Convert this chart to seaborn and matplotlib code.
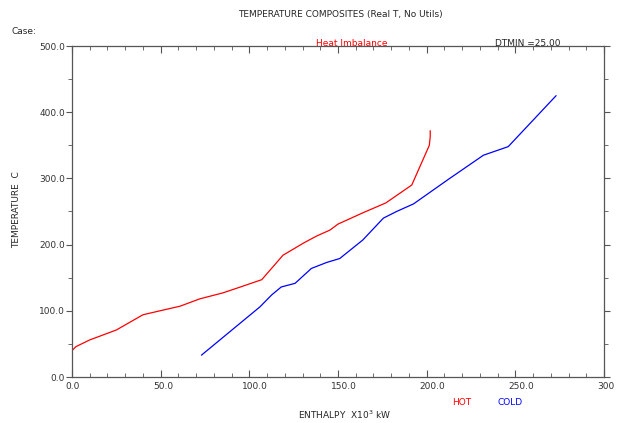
import numpy as np
import pandas as pd
import seaborn as sns
import matplotlib.pyplot as plt
from matplotlib.ticker import MultipleLocator, FuncFormatter
from matplotlib.transforms import ScaledTranslation

# composite curves, enthalpy in 10^3 kW, temperature in C
hot_h = [0.0, 2.3, 10.0, 25.0, 40.0, 49.6, 61.0, 72.0, 85.0, 95.0, 107.0, 119.0,
         131.0, 138.0, 145.5, 150.0, 164.0, 177.0, 191.6, 201.5, 202.0, 202.0]
hot_t = [40.0, 46.0, 56.0, 71.0, 94.0, 100.0, 107.0, 118.0, 127.0, 136.0, 147.0, 184.0,
         203.0, 213.0, 222.0, 231.0, 248.0, 263.0, 290.0, 350.0, 363.0, 372.0]
cold_h = [73.0, 106.0, 112.6, 118.0, 125.8, 135.0, 143.6, 151.0, 164.0, 175.6,
          183.0, 192.6, 213.0, 232.0, 246.0, 273.0]
cold_t = [33.0, 106.0, 124.0, 136.0, 141.5, 164.0, 173.0, 179.0, 207.0, 240.0,
          250.0, 261.5, 300.0, 335.0, 348.0, 425.0]

df = pd.concat([
    pd.DataFrame({"enthalpy": hot_h, "temp": hot_t, "stream": "HOT"}),
    pd.DataFrame({"enthalpy": cold_h, "temp": cold_t, "stream": "COLD"}),
])

sns.set_style("white")
plt.rcParams["font.family"] = ["DejaVu Sans"]

fig = plt.figure(figsize=(6.18, 4.23), dpi=100)
ax = fig.add_axes([72 / 618, 46 / 423, 532 / 618, 331 / 423])

sns.lineplot(data=df, x="enthalpy", y="temp", hue="stream", sort=False,
             estimator=None, palette={"HOT": "#ff0000", "COLD": "#0000ff"},
             linewidth=0.9, legend=False, ax=ax)

ax.set_xlim(0, 300)
ax.set_ylim(0, 500)
ax.xaxis.set_major_locator(MultipleLocator(50))
ax.xaxis.set_minor_locator(MultipleLocator(10))
ax.yaxis.set_major_locator(MultipleLocator(100))
ax.yaxis.set_minor_locator(MultipleLocator(50))
ax.xaxis.set_major_formatter(FuncFormatter(lambda v, p: "300" if v >= 300 else f"{v:.1f}"))
ax.yaxis.set_major_formatter(FuncFormatter(lambda v, p: f"{v:.1f}"))
ax.tick_params(axis="x", which="both", direction="in", top=True, bottom=True,
               labelsize=6.5, labelcolor="#333333", color="#555555")
ax.tick_params(axis="x", which="major", length=5)
ax.tick_params(axis="x", which="minor", length=3)
ax.tick_params(axis="y", which="both", direction="out", left=True, right=True,
               labelsize=6.5, labelcolor="#333333", color="#555555")
ax.tick_params(axis="y", which="major", length=4, pad=1)
ax.tick_params(axis="y", which="minor", length=3)
for lbl in ax.get_xticklabels():
    lbl.set_horizontalalignment("left")
    lbl.set_transform(lbl.get_transform() + ScaledTranslation(-5 / 72, 0, fig.dpi_scale_trans))
for s in ax.spines.values():
    s.set_color("#555555")
    s.set_linewidth(0.9)
ax.set_xlabel("")
ax.set_ylabel("")

fs = 6.5
fig.text(340 / 618, 1 - 15 / 423, "TEMPERATURE COMPOSITES (Real T, No Utils)",
         ha="center", va="center", fontsize=fs)
fig.text(12 / 618, 1 - 31 / 423, "Case:", ha="left", va="center", fontsize=fs)
fig.text(352 / 618, 1 - 43 / 423, "Heat Imbalance", ha="center", va="center",
         fontsize=fs, color="#ff0000")
fig.text(495 / 618, 1 - 43 / 423, "DTMIN =25.00", ha="left", va="center", fontsize=fs)
fig.text(462 / 618, 1 - 402 / 423, "HOT", ha="center", va="center", fontsize=fs,
         color="#ff0000")
fig.text(510 / 618, 1 - 402 / 423, "COLD", ha="center", va="center", fontsize=fs,
         color="#0000ff")
fig.text(345 / 618, 1 - 415 / 423, r"ENTHALPY  X10$^{3}$ kW", ha="center", va="center",
         fontsize=fs)
fig.text(17 / 618, 1 - 210 / 423, "TEMPERATURE  C", ha="center", va="center",
         rotation=90, fontsize=fs)

fig.savefig("out.png", dpi=100)
